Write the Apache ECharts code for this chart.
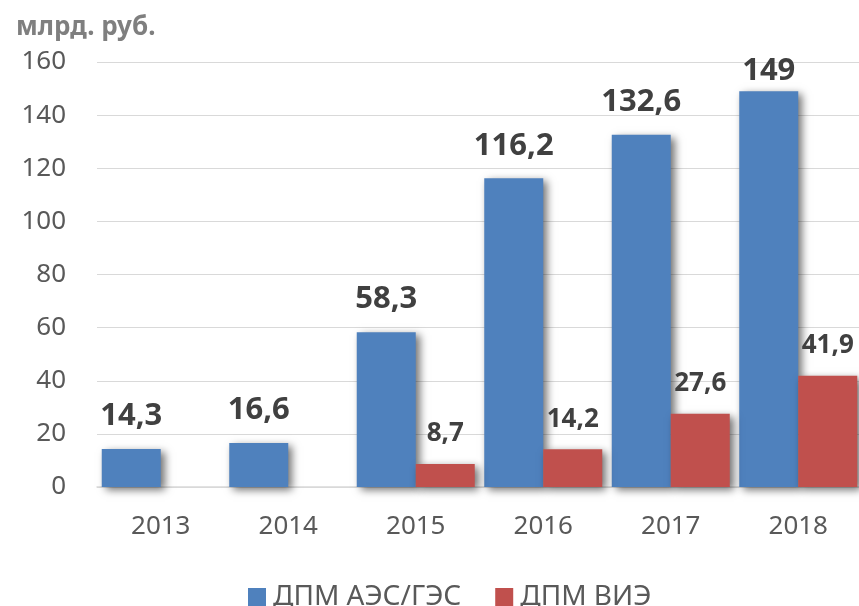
<!DOCTYPE html>
<html>
<head>
<meta charset="utf-8">
<script src="https://cdn.jsdelivr.net/npm/echarts@6/dist/echarts.min.js"></script>
<style>
  html, body { margin: 0; padding: 0; background: #fff; }
  #chart { width: 859px; height: 606px; }
</style>
</head>
<body>
<div id="chart"></div>
<script>
// data
const years = ['2013', '2014', '2015', '2016', '2017', '2018'];
const aesGes = [14.3, 16.6, 58.3, 116.2, 132.6, 149];
const vie = [null, null, 8.7, 14.2, 27.6, 41.9];
const seriesNames = ['ДПМ АЭС/ГЭС', 'ДПМ ВИЭ'];
const yTicks = [0, 20, 40, 60, 80, 100, 120, 140, 160];

const fmt = v => String(v).replace('.', ',');

let el = document.getElementById('chart');
let myChart = echarts.init(el, null, { renderer: 'canvas' });

const barShadow = {
    shadowColor: 'rgba(0,0,0,0.55)',
    shadowBlur: 8,
    shadowOffsetX: 4,
    shadowOffsetY: 3
};

// 149 label was moved closer to the bar in the original
const blueData = aesGes.map((v, i) => i === aesGes.length - 1
    ? { value: v, label: { distance: 5 } }
    : v);

myChart.setOption({
    animation: false,
    title: {
        text: 'млрд. руб.',
        left: 11,
        top: 10,
        textStyle: { fontFamily: 'Noto Sans', fontSize: 26, fontWeight: 'bold', color: '#7f7f7f' }
    },
    legend: {
        data: seriesNames,
        left: 243,
        top: 578,
        icon: 'rect',
        itemWidth: 18,
        itemHeight: 18,
        itemGap: 34,
        textStyle: { fontFamily: 'Noto Sans', fontSize: 28, color: '#595959', padding: [0, 0, 0, 2] }
    },
    grid: { left: 97, right: -3, top: 62, bottom: 119, outerBoundsMode: 'none' },
    xAxis: {
        type: 'category',
        data: years,
        axisTick: { show: false },
        axisLine: { lineStyle: { color: '#d9d9d9', width: 1.5 } },
        axisLabel: { fontFamily: 'Noto Sans', fontSize: 26, color: '#595959', margin: 27 }
    },
    yAxis: {
        type: 'value',
        min: yTicks[0],
        max: yTicks[yTicks.length - 1],
        interval: 20,
        axisLine: { show: false },
        axisTick: { show: false },
        splitLine: { lineStyle: { color: '#d9d9d9', width: 1.2 } },
        axisLabel: { fontFamily: 'Noto Sans', fontSize: 26, color: '#595959', margin: 31 }
    },
    series: [
        {
            name: seriesNames[0],
            type: 'bar',
            data: blueData,
            barWidth: 59,
            barGap: '0%',
            itemStyle: Object.assign({ color: '#4f81bd' }, barShadow),
            label: {
                show: true,
                position: 'top',
                distance: 17,
                formatter: p => fmt(p.value),
                fontFamily: 'Noto Sans',
                fontSize: 31,
                fontWeight: 'bold',
                color: '#404040'
            }
        },
        {
            name: seriesNames[1],
            type: 'bar',
            data: vie,
            barWidth: 59,
            barGap: '0%',
            itemStyle: Object.assign({ color: '#c0504d' }, barShadow),
            label: {
                show: true,
                position: 'top',
                distance: 17,
                formatter: p => fmt(p.value),
                fontFamily: 'Noto Sans',
                fontSize: 26,
                fontWeight: 'bold',
                color: '#404040'
            }
        }
    ]
});
</script>
</body>
</html>
